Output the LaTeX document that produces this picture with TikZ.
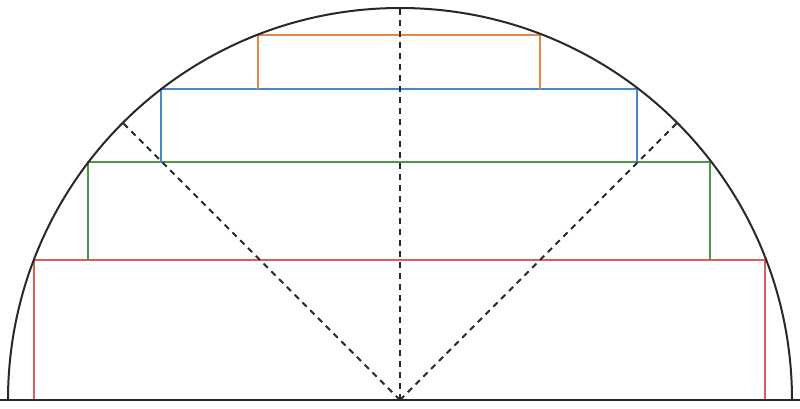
\documentclass[tikz,border=0pt]{standalone}
\usetikzlibrary{calc}
\definecolor{cred}{RGB}{222,92,92}
\definecolor{cgreen}{RGB}{76,150,76}
\definecolor{cblue}{RGB}{74,134,206}
\definecolor{corange}{RGB}{226,136,74}
\definecolor{cdark}{RGB}{40,40,40}
\tikzset{
  arcline/.style={draw=cdark,line width=2bp},
  guide/.style={draw=cdark,line width=1.8bp,dash pattern=on 6bp off 5bp},
  rectline/.style={line width=2bp}
}
\begin{document}
\begin{tikzpicture}[x=1bp,y=1bp]
\useasboundingbox (0,0) rectangle (800,408);
\coordinate (O) at (400,8);
\coordinate (T) at (400,399);
\coordinate (L) at ($(O)+(135:392)$);
\coordinate (R) at ($(O)+(45:392)$);
% rectangles
\draw[rectline,cred] (34,8) -- (34,148) -- (765,148) -- (765,8);
\draw[rectline,cgreen] (88,148) -- (88,246) -- (710,246) -- (710,148);
\draw[rectline,cblue] (161,246) -- (161,319) -- (637,319) -- (637,246);
\draw[rectline,corange] (258,319) -- (258,373) -- (540,373) -- (540,319);
% guides
\draw[guide] (O) -- (T);
\draw[guide] (O) -- (L);
\draw[guide] (O) -- (R);
% semicircle and base
\draw[arcline] (8,8) arc[start angle=180,end angle=0,radius=392];
\draw[arcline] (0,8) -- (800,8);
\end{tikzpicture}
\end{document}
